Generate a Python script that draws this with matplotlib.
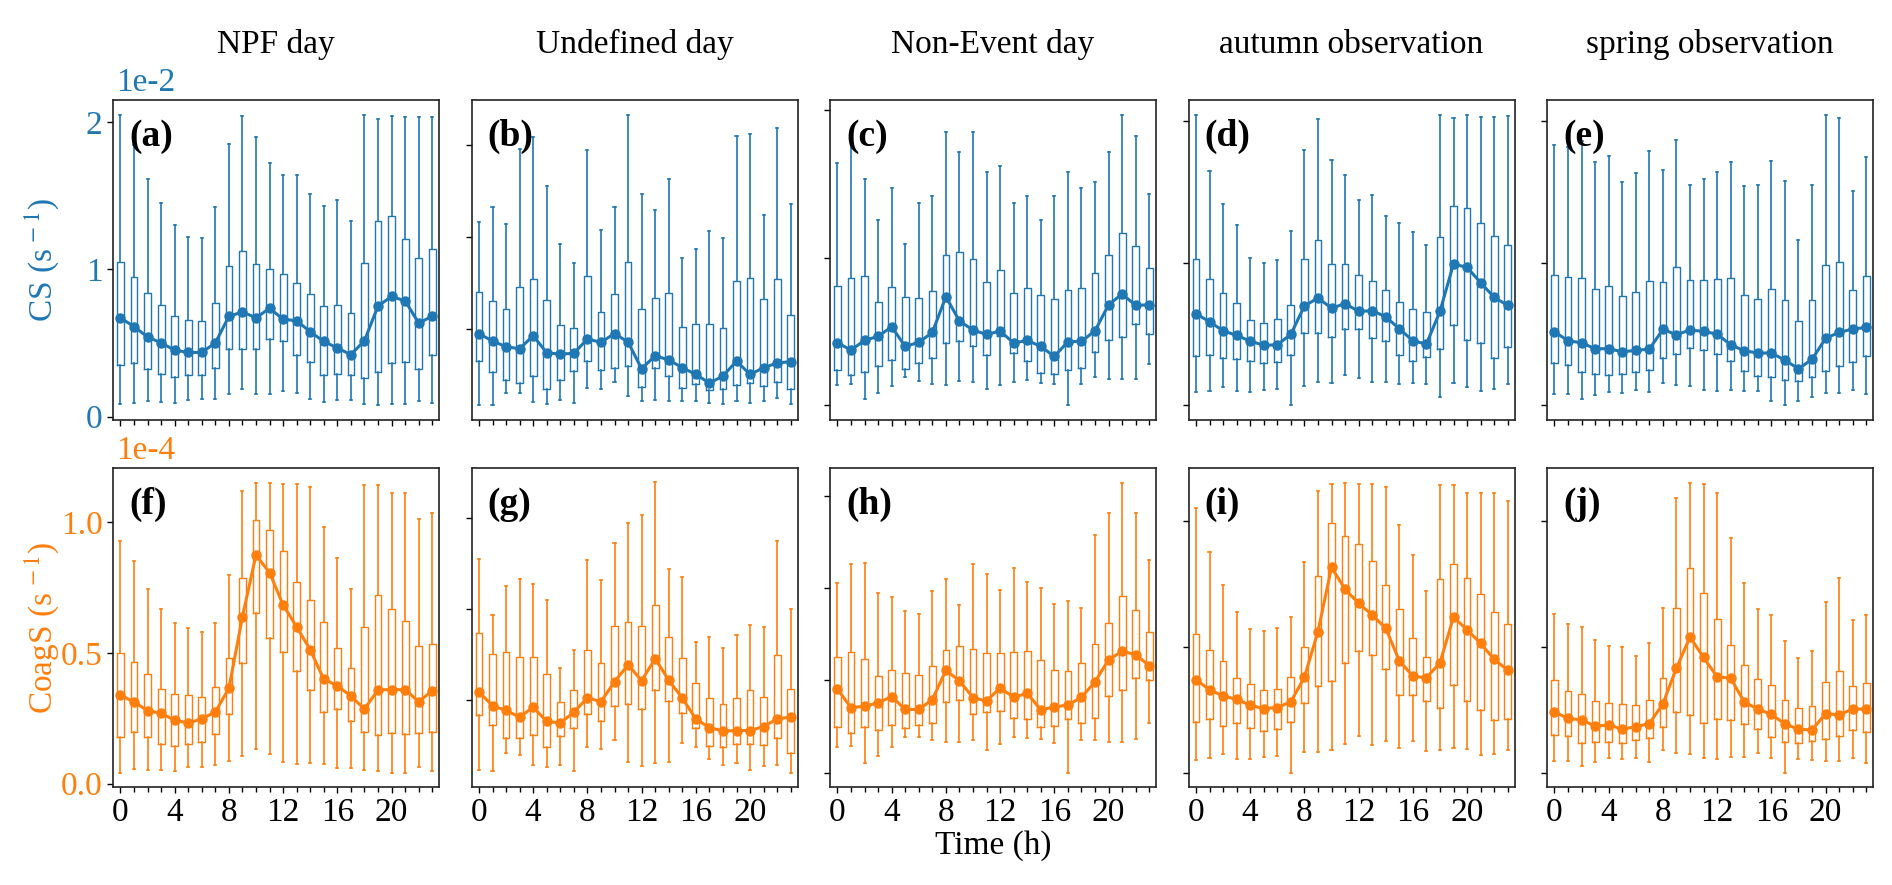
import matplotlib
matplotlib.use("Agg")
import matplotlib.pyplot as plt
from matplotlib.ticker import MultipleLocator, FixedLocator, NullFormatter

plt.rcParams['font.family'] = ['Liberation Serif', 'DejaVu Serif']
plt.rcParams['mathtext.fontset'] = 'stix'

hours = list(range(24))
titles = ["NPF day", "Undefined day", "Non-Event day", "autumn observation", "spring observation"]
xtick_labels = ["0", "4", "8", "12", "16", "20"]

# ---- CS (units of 1e-2 s^-1) ----
a_hi = [2.05,1.84,1.61,1.45,1.30,1.22,1.21,1.42,1.85,2.04,1.90,1.72,1.64,1.64,1.51,1.43,1.47,1.33,2.05,2.02,2.04,2.03,2.03,2.03]
a_q3 = [1.05,0.95,0.84,0.76,0.68,0.655,0.65,0.77,1.02,1.125,1.035,1.00,0.965,0.905,0.83,0.75,0.76,0.705,1.045,1.33,1.36,1.205,1.075,1.14]
a_md = [0.67,0.61,0.54,0.50,0.45,0.435,0.435,0.50,0.68,0.71,0.67,0.735,0.66,0.65,0.575,0.51,0.465,0.42,0.515,0.75,0.815,0.785,0.635,0.68]
a_q1 = [0.35,0.36,0.32,0.29,0.27,0.28,0.28,0.33,0.46,0.46,0.46,0.525,0.51,0.42,0.37,0.285,0.29,0.285,0.26,0.30,0.36,0.37,0.325,0.42]
a_lo = [0.086,0.095,0.106,0.10,0.095,0.11,0.12,0.12,0.155,0.19,0.15,0.155,0.175,0.16,0.12,0.10,0.11,0.11,0.085,0.075,0.085,0.085,0.105,0.09]

b_hi = [1.081,1.164,1.072,1.480,1.544,1.276,0.959,0.858,1.476,1.039,1.164,1.667,1.233,1.148,1.315,0.888,0.936,1.035,0.997,1.551,1.562,1.117,1.593,1.177]
b_q3 = [0.700,0.649,0.609,0.730,0.772,0.654,0.520,0.506,0.790,0.593,0.687,0.863,0.607,0.669,0.694,0.511,0.526,0.527,0.505,0.760,0.778,0.662,0.772,0.576]
b_md = [0.473,0.433,0.402,0.391,0.462,0.369,0.362,0.366,0.444,0.426,0.474,0.427,0.282,0.353,0.330,0.288,0.251,0.204,0.242,0.324,0.251,0.288,0.313,0.321]
b_q1 = [0.324,0.264,0.219,0.206,0.242,0.172,0.222,0.270,0.324,0.277,0.284,0.297,0.184,0.286,0.242,0.177,0.197,0.164,0.172,0.191,0.206,0.188,0.210,0.172]
b_lo = [0.084,0.082,0.150,0.148,0.099,0.088,0.113,0.095,0.175,0.173,0.211,0.135,0.108,0.110,0.104,0.104,0.104,0.097,0.090,0.104,0.095,0.108,0.124,0.090]

c_hi = [1.645,1.790,1.532,1.254,1.473,1.092,1.372,1.421,1.851,1.718,1.855,1.584,1.625,1.369,1.417,1.254,1.419,1.582,1.476,1.512,1.718,1.971,1.828,1.433]
c_q3 = [0.807,0.863,0.875,0.698,0.805,0.737,0.728,0.777,1.021,1.040,0.992,0.834,0.915,0.764,0.793,0.748,0.721,0.780,0.795,0.895,1.019,1.166,1.082,0.931]
c_md = [0.425,0.375,0.441,0.468,0.533,0.400,0.427,0.495,0.737,0.572,0.511,0.481,0.504,0.423,0.441,0.400,0.332,0.432,0.434,0.506,0.682,0.755,0.678,0.682]
c_q1 = [0.237,0.208,0.228,0.264,0.310,0.244,0.289,0.321,0.420,0.436,0.402,0.341,0.470,0.357,0.298,0.219,0.210,0.240,0.255,0.362,0.441,0.461,0.551,0.481]
c_lo = [0.136,0.142,0.047,0.081,0.129,0.192,0.167,0.147,0.136,0.163,0.158,0.111,0.136,0.160,0.174,0.149,0.142,0.000,0.142,0.192,0.176,0.176,0.181,0.280]

d_hi = [2.042,1.653,1.420,1.270,1.038,1.000,1.023,1.225,1.798,2.014,1.730,1.624,1.446,1.479,1.336,1.284,1.223,1.127,2.047,2.023,2.042,2.031,2.031,2.035]
d_q3 = [1.028,0.890,0.791,0.723,0.603,0.577,0.610,0.709,1.028,1.162,0.995,0.995,0.918,0.876,0.812,0.728,0.678,0.657,1.188,1.401,1.392,1.284,1.192,1.131]
d_md = [0.646,0.589,0.526,0.493,0.453,0.423,0.427,0.500,0.700,0.756,0.685,0.716,0.662,0.667,0.624,0.540,0.455,0.432,0.662,0.995,0.972,0.864,0.761,0.704]
d_q1 = [0.350,0.354,0.333,0.324,0.310,0.296,0.305,0.354,0.507,0.512,0.479,0.540,0.535,0.474,0.451,0.357,0.315,0.338,0.399,0.566,0.458,0.439,0.336,0.411]
d_lo = [0.092,0.099,0.127,0.101,0.094,0.108,0.115,0.000,0.134,0.164,0.155,0.214,0.190,0.162,0.162,0.148,0.155,0.150,0.061,0.155,0.127,0.103,0.115,0.148]

e_hi = [1.831,1.817,1.859,1.711,1.754,1.573,1.634,1.789,1.655,1.869,1.552,1.594,1.641,1.711,1.545,1.554,1.723,1.577,1.167,1.549,2.047,2.023,1.512,1.751]
e_q3 = [0.918,0.901,0.897,0.822,0.843,0.768,0.796,0.878,0.866,0.974,0.883,0.883,0.890,0.899,0.775,0.749,0.822,0.739,0.596,0.742,0.986,1.012,0.812,0.908]
e_md = [0.519,0.455,0.441,0.399,0.399,0.378,0.387,0.397,0.535,0.498,0.531,0.521,0.502,0.427,0.385,0.369,0.369,0.319,0.258,0.324,0.472,0.514,0.538,0.549]
e_q1 = [0.296,0.284,0.232,0.221,0.216,0.221,0.237,0.249,0.331,0.359,0.404,0.390,0.359,0.315,0.242,0.207,0.197,0.178,0.169,0.197,0.242,0.275,0.303,0.347]
e_lo = [0.080,0.080,0.047,0.077,0.096,0.085,0.108,0.092,0.157,0.141,0.134,0.108,0.103,0.106,0.101,0.101,0.031,0.000,0.031,0.063,0.085,0.089,0.106,0.082]

# ---- CoagS (units of 1e-4 s^-1) ----
f_hi = [0.930,0.853,0.744,0.670,0.615,0.594,0.579,0.613,0.800,1.120,1.150,1.152,1.148,1.146,1.133,0.980,0.863,0.744,1.143,1.142,1.110,1.113,1.014,1.035]
f_q3 = [0.500,0.464,0.420,0.362,0.345,0.338,0.330,0.370,0.479,0.786,1.008,0.971,0.891,0.773,0.702,0.620,0.521,0.441,0.598,0.720,0.668,0.622,0.528,0.536]
f_md = [0.340,0.312,0.280,0.269,0.243,0.232,0.248,0.275,0.365,0.639,0.875,0.807,0.684,0.600,0.512,0.400,0.375,0.335,0.286,0.359,0.360,0.360,0.314,0.355]
f_q1 = [0.180,0.196,0.177,0.152,0.143,0.153,0.161,0.191,0.265,0.460,0.654,0.559,0.502,0.432,0.359,0.275,0.284,0.240,0.199,0.186,0.195,0.189,0.194,0.196]
f_lo = [0.043,0.057,0.052,0.053,0.050,0.063,0.065,0.070,0.087,0.105,0.134,0.113,0.085,0.077,0.080,0.076,0.061,0.060,0.053,0.047,0.043,0.043,0.063,0.050]

g_hi = [0.637,0.484,0.561,0.582,0.567,0.525,0.337,0.388,0.634,0.580,0.681,0.735,0.756,0.846,0.609,0.587,0.409,0.423,0.391,0.429,0.456,0.450,0.685,0.498]
g_q3 = [0.434,0.375,0.382,0.368,0.367,0.320,0.243,0.276,0.387,0.350,0.453,0.463,0.453,0.509,0.423,0.364,0.295,0.255,0.240,0.256,0.277,0.257,0.374,0.279]
g_md = [0.272,0.234,0.221,0.203,0.230,0.191,0.187,0.216,0.256,0.245,0.300,0.346,0.303,0.363,0.304,0.255,0.198,0.174,0.165,0.166,0.166,0.177,0.198,0.203]
g_q1 = [0.208,0.180,0.146,0.145,0.154,0.121,0.152,0.172,0.211,0.191,0.232,0.239,0.225,0.276,0.248,0.214,0.172,0.125,0.121,0.129,0.129,0.126,0.146,0.104]
g_lo = [0.058,0.055,0.104,0.100,0.071,0.066,0.071,0.055,0.122,0.115,0.140,0.081,0.068,0.077,0.081,0.133,0.121,0.089,0.071,0.077,0.058,0.070,0.071,0.051]

h_hi = [0.513,0.565,0.568,0.487,0.477,0.438,0.430,0.493,0.524,0.455,0.567,0.539,0.496,0.555,0.518,0.500,0.458,0.466,0.446,0.645,0.703,0.787,0.703,0.577]
h_q3 = [0.313,0.326,0.309,0.263,0.278,0.269,0.265,0.289,0.332,0.344,0.334,0.323,0.325,0.327,0.331,0.304,0.277,0.275,0.297,0.349,0.405,0.479,0.441,0.381]
h_md = [0.226,0.176,0.180,0.189,0.206,0.171,0.171,0.198,0.277,0.249,0.203,0.194,0.230,0.204,0.215,0.170,0.178,0.183,0.204,0.246,0.306,0.329,0.320,0.290]
h_q1 = [0.123,0.106,0.123,0.114,0.129,0.122,0.128,0.133,0.190,0.196,0.158,0.165,0.168,0.148,0.146,0.124,0.125,0.144,0.133,0.147,0.207,0.225,0.256,0.250]
h_lo = [0.069,0.073,0.026,0.044,0.069,0.096,0.096,0.087,0.082,0.083,0.088,0.060,0.078,0.095,0.093,0.092,0.080,0.000,0.087,0.087,0.083,0.083,0.091,0.134]

i_hi = [1.049,0.876,0.744,0.638,0.569,0.564,0.575,0.616,0.838,1.120,1.148,1.152,1.148,1.148,1.136,0.983,0.863,0.720,1.144,1.144,1.112,1.110,1.110,1.078]
i_q3 = [0.552,0.486,0.444,0.374,0.350,0.329,0.333,0.378,0.499,0.779,0.992,0.941,0.908,0.840,0.745,0.651,0.535,0.458,0.770,0.828,0.771,0.709,0.638,0.589]
i_md = [0.369,0.329,0.304,0.291,0.267,0.254,0.258,0.281,0.378,0.560,0.815,0.728,0.672,0.626,0.573,0.444,0.383,0.376,0.436,0.617,0.567,0.513,0.449,0.407]
i_q1 = [0.201,0.211,0.185,0.196,0.177,0.166,0.172,0.201,0.275,0.345,0.363,0.436,0.483,0.466,0.413,0.309,0.308,0.284,0.258,0.349,0.284,0.250,0.209,0.213]
i_lo = [0.050,0.058,0.075,0.055,0.054,0.063,0.065,0.000,0.082,0.083,0.090,0.112,0.145,0.108,0.127,0.098,0.127,0.087,0.090,0.096,0.095,0.071,0.074,0.089]

j_hi = [0.631,0.589,0.579,0.526,0.503,0.498,0.464,0.514,0.654,1.092,1.152,1.145,1.110,0.933,0.754,0.651,0.627,0.524,0.453,0.481,0.678,0.771,0.606,0.627]
j_q3 = [0.366,0.324,0.312,0.285,0.277,0.271,0.268,0.289,0.374,0.654,0.811,0.713,0.610,0.506,0.429,0.370,0.347,0.287,0.256,0.266,0.359,0.402,0.345,0.357]
j_md = [0.240,0.215,0.209,0.184,0.189,0.172,0.182,0.194,0.273,0.415,0.538,0.457,0.380,0.375,0.280,0.252,0.231,0.193,0.172,0.169,0.234,0.229,0.252,0.252]
j_q1 = [0.148,0.144,0.118,0.120,0.120,0.118,0.129,0.137,0.181,0.242,0.230,0.198,0.214,0.207,0.194,0.173,0.140,0.123,0.119,0.124,0.135,0.144,0.168,0.160]
j_lo = [0.044,0.044,0.026,0.042,0.058,0.053,0.057,0.042,0.090,0.077,0.075,0.059,0.054,0.062,0.063,0.077,0.059,0.000,0.055,0.048,0.045,0.046,0.057,0.038]

panels_top = [(a_hi, a_q3, a_md, a_q1, a_lo), (b_hi, b_q3, b_md, b_q1, b_lo),
              (c_hi, c_q3, c_md, c_q1, c_lo), (d_hi, d_q3, d_md, d_q1, d_lo),
              (e_hi, e_q3, e_md, e_q1, e_lo)]
panels_bot = [(f_hi, f_q3, f_md, f_q1, f_lo), (g_hi, g_q3, g_md, g_q1, g_lo),
              (h_hi, h_q3, h_md, h_q1, h_lo), (i_hi, i_q3, i_md, i_q1, i_lo),
              (j_hi, j_q3, j_md, j_q1, j_lo)]
yticks_top = [[0, 1, 2], [0.5, 1.0, 1.5], [0, 1, 2], [0, 1, 2], [0, 1, 2]]
yticks_bot = [[0, 0.5, 1.0], [0.25, 0.5, 0.75], [0, 0.25, 0.5, 0.75], [0, 0.5, 1.0], [0, 0.5, 1.0]]
letters_top = ["(a)", "(b)", "(c)", "(d)", "(e)"]
letters_bot = ["(f)", "(g)", "(h)", "(i)", "(j)"]

BLUE = '#1f77b4'
ORANGE = '#ff7f0e'

W, H = 1892, 885
fig = plt.figure(figsize=(W / 100, H / 100), dpi=100)

left0 = 113 / W
aw = 326 / W
step = 358.5 / W
top_b, top_h = 1 - 420 / H, 320 / H
bot_b, bot_h = 1 - 787 / H, 319 / H


def draw(ax, data, color, yt, letter):
    hi, q3, md, q1, lo = data
    stats = [dict(med=m, q1=a, q3=b, whislo=l, whishi=h, fliers=[])
             for h, b, m, a, l in zip(hi, q3, md, q1, lo)]
    ax.bxp(stats, positions=hours, widths=0.5, capwidths=0.15, showfliers=False,
           patch_artist=False, manage_ticks=False,
           boxprops=dict(color=color, linewidth=1.0),
           whiskerprops=dict(color=color, linewidth=1.2),
           capprops=dict(color=color, linewidth=1.2),
           medianprops=dict(linewidth=0))
    ax.plot(hours, md, color=color, lw=2.2, marker='o', ms=6.5, zorder=5)
    ax.set_xlim(-0.55, 23.5)
    ax.yaxis.set_major_locator(FixedLocator(yt))
    ax.xaxis.set_major_locator(MultipleLocator(4))
    ax.xaxis.set_minor_locator(MultipleLocator(1))
    ax.tick_params(axis='both', which='major', length=4, width=1, direction='out', labelsize=24)
    ax.tick_params(axis='x', which='minor', length=3.5, width=1, direction='out')
    for s in ax.spines.values():
        s.set_linewidth(1.2)
        s.set_color('#222222')
    ax.text(0.05, 0.94, letter, transform=ax.transAxes, ha='left', va='top',
            fontsize=27, fontweight='bold')


axes_top, axes_bot = [], []
for k in range(5):
    ax = fig.add_axes([left0 + k * step, top_b, aw, top_h])
    draw(ax, panels_top[k], BLUE, yticks_top[k], letters_top[k])
    ax.set_title(titles[k], fontsize=24, pad=34)
    ax.xaxis.set_major_formatter(NullFormatter())
    axes_top.append(ax)

    ax2 = fig.add_axes([left0 + k * step, bot_b, aw, bot_h])
    draw(ax2, panels_bot[k], ORANGE, yticks_bot[k], letters_bot[k])
    ax2.set_xticks([0, 4, 8, 12, 16, 20])
    ax2.set_xticklabels(xtick_labels)
    axes_bot.append(ax2)
    if k > 0:
        ax.yaxis.set_major_formatter(NullFormatter())
        ax2.yaxis.set_major_formatter(NullFormatter())

axes_top[0].set_yticklabels(["0", "1", "2"])
axes_top[0].tick_params(axis='y', labelcolor=BLUE)
axes_bot[0].set_yticklabels(["0.0", "0.5", "1.0"])
axes_bot[0].tick_params(axis='y', labelcolor=ORANGE)

axes_top[0].text(0.01, 1.005, "1e-2", transform=axes_top[0].transAxes, ha='left', va='bottom',
                 fontsize=24, color=BLUE)
axes_bot[0].text(0.01, 1.005, "1e-4", transform=axes_bot[0].transAxes, ha='left', va='bottom',
                 fontsize=24, color=ORANGE)

axes_top[0].set_ylabel("CS (s$^{\\,-1}$)", fontsize=24, color=BLUE)
axes_top[0].yaxis.set_label_coords(-0.16, 0.5)
axes_bot[0].set_ylabel("CoagS (s$^{\\,-1}$)", fontsize=24, color=ORANGE)
axes_bot[0].yaxis.set_label_coords(-0.16, 0.5)

axes_bot[2].set_xlabel("Time (h)", fontsize=24, labelpad=2)

fig.savefig("out.png", dpi=100)
